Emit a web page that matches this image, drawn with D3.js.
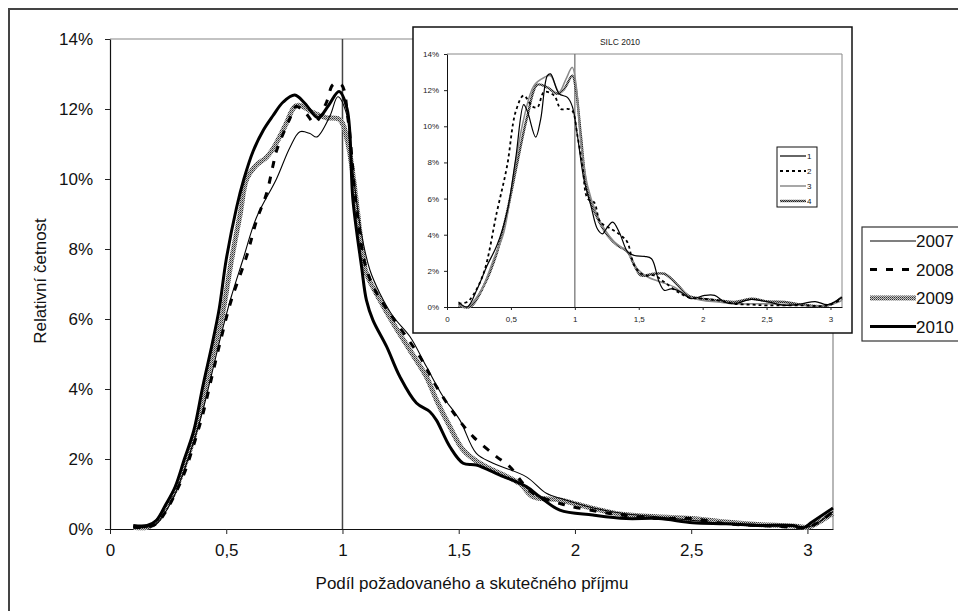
<!DOCTYPE html>
<html>
<head>
<meta charset="utf-8">
<script src="https://cdn.jsdelivr.net/npm/d3@7"></script>
<style>
body { margin: 0; background: #fff; }
svg { font-family: "Liberation Sans", Arial, sans-serif; }
</style>
</head>
<body>
<svg id="chart" width="958" height="611"></svg>
<script>
// main chart series: [podil, relativni cetnost %]
var s2007 = [[0.10,0.05],[0.16,0.05],[0.20,0.15],[0.24,0.5],[0.28,1.0],[0.32,1.7],[0.36,2.5],[0.40,3.4],[0.44,4.5],[0.48,5.6],[0.52,6.6],[0.572,7.7],[0.63,8.9],[0.716,10.0],[0.774,10.9],[0.817,11.35],[0.86,11.3],[0.889,11.2],[0.946,11.8],[0.98,12.35],[1.02,11.8],[1.04,10.5],[1.08,8.5],[1.118,7.4],[1.161,6.73],[1.218,6.07],[1.29,5.5],[1.361,4.64],[1.433,3.78],[1.505,3.11],[1.576,2.16],[1.648,1.88],[1.791,1.49],[1.877,1.02],[1.95,0.85],[2.08,0.6],[2.2,0.45],[2.35,0.35],[2.5,0.25],[2.65,0.15],[2.8,0.1],[2.95,0.07],[3.0,0.05],[3.05,0.2],[3.11,0.5]];
var s2008 = [[0.10,0.05],[0.16,0.05],[0.20,0.15],[0.24,0.5],[0.28,1.0],[0.32,1.6],[0.36,2.4],[0.40,3.3],[0.44,4.4],[0.48,5.5],[0.52,6.5],[0.588,7.8],[0.63,8.8],[0.674,9.6],[0.70,10.35],[0.716,10.8],[0.774,11.73],[0.80,12.07],[0.84,11.9],[0.88,11.6],[0.93,12.17],[0.96,12.7],[0.995,12.7],[1.024,11.7],[1.06,9.2],[1.10,7.5],[1.15,6.7],[1.204,6.16],[1.333,4.92],[1.404,4.07],[1.49,3.21],[1.562,2.64],[1.662,2.07],[1.72,1.78],[1.777,1.3],[1.82,1.02],[1.95,0.7],[2.1,0.5],[2.2,0.4],[2.35,0.3],[2.5,0.3],[2.65,0.15],[2.8,0.1],[2.95,0.05],[3.0,0.05],[3.05,0.2],[3.11,0.5]];
var s2009 = [[0.10,0.05],[0.16,0.05],[0.20,0.2],[0.24,0.6],[0.28,1.1],[0.32,1.8],[0.36,2.6],[0.40,3.7],[0.44,4.9],[0.48,6.0],[0.523,7.7],[0.56,9.0],[0.588,10.0],[0.63,10.4],[0.67,10.6],[0.70,10.85],[0.752,11.5],[0.795,12.07],[0.818,12.1],[0.873,11.9],[0.93,11.75],[0.988,11.7],[1.024,11.0],[1.088,7.8],[1.103,7.3],[1.161,6.54],[1.218,5.88],[1.29,5.11],[1.361,4.35],[1.404,3.69],[1.462,2.92],[1.519,2.26],[1.59,1.88],[1.677,1.59],[1.763,1.3],[1.82,0.92],[1.935,0.83],[2.077,0.59],[2.2,0.42],[2.35,0.35],[2.5,0.3],[2.65,0.2],[2.8,0.12],[2.95,0.08],[3.0,0.05],[3.05,0.2],[3.11,0.45]];
var s2010 = [[0.10,0.10],[0.16,0.10],[0.20,0.25],[0.24,0.7],[0.28,1.2],[0.32,2.0],[0.36,2.8],[0.40,4.1],[0.44,5.3],[0.47,6.3],[0.50,7.7],[0.545,9.2],[0.576,10.0],[0.616,10.8],[0.66,11.4],[0.70,11.8],[0.745,12.2],[0.795,12.4],[0.84,12.15],[0.895,11.75],[0.94,12.1],[0.985,12.5],[1.02,12.0],[1.045,9.4],[1.082,7.5],[1.103,6.54],[1.131,5.97],[1.19,5.21],[1.247,4.35],[1.318,3.6],[1.376,3.35],[1.404,3.11],[1.462,2.35],[1.519,1.88],[1.576,1.83],[1.677,1.54],[1.791,1.21],[1.849,0.92],[1.935,0.54],[2.077,0.4],[2.22,0.3],[2.36,0.3],[2.507,0.18],[2.65,0.15],[2.79,0.1],[2.937,0.1],[2.98,0.03],[3.02,0.2],[3.11,0.6]];

// inset (SILC 2010) series 1-4
var i1 = [[0.09,0.28],[0.157,0.0],[0.236,1.0],[0.314,2.3],[0.39,3.4],[0.47,5.25],[0.537,8.2],[0.60,11.2],[0.63,10.8],[0.694,9.4],[0.733,10.4],[0.785,12.8],[0.81,12.9],[0.877,11.8],[0.942,11.6],[0.98,11.1],[1.02,9.5],[1.07,7.1],[1.126,5.6],[1.178,4.3],[1.217,4.05],[1.243,4.3],[1.296,4.7],[1.35,4.1],[1.414,3.04],[1.466,2.85],[1.545,2.8],[1.60,2.67],[1.66,1.38],[1.70,0.92],[1.754,1.0],[1.83,0.83],[1.91,0.46],[2.016,0.64],[2.094,0.64],[2.17,0.28],[2.25,0.18],[2.38,0.42],[2.51,0.28],[2.64,0.09],[2.775,0.18],[2.88,0.3],[2.98,0.13],[3.09,0.55]];
var i2 = [[0.09,0.18],[0.157,0.28],[0.20,0.6],[0.288,1.9],[0.39,5.25],[0.47,7.8],[0.537,10.8],[0.60,11.7],[0.667,11.1],[0.707,11.05],[0.76,11.9],[0.838,11.7],[0.89,10.96],[0.942,10.96],[0.98,10.87],[1.02,9.5],[1.06,7.8],[1.10,6.0],[1.15,5.8],[1.20,4.7],[1.283,4.33],[1.36,3.96],[1.41,3.6],[1.466,2.3],[1.545,1.75],[1.62,1.75],[1.70,1.38],[1.806,0.83],[1.885,0.55],[1.99,0.46],[2.12,0.37],[2.25,0.18],[2.38,0.13],[2.51,0.09],[2.775,0.09],[2.98,0.09],[3.09,0.46]];
var i3 = [[0.09,0.13],[0.157,0.0],[0.26,0.83],[0.366,2.67],[0.445,4.14],[0.524,7.46],[0.60,10.4],[0.68,12.25],[0.76,12.7],[0.81,12.8],[0.877,11.9],[0.93,12.6],[0.98,13.26],[1.008,12.4],[1.047,9.1],[1.10,6.7],[1.165,5.25],[1.23,4.33],[1.31,3.6],[1.414,3.04],[1.49,2.1],[1.57,1.66],[1.675,1.38],[1.78,1.1],[1.86,0.64],[1.99,0.37],[2.12,0.28],[2.25,0.18],[2.51,0.18],[2.775,0.09],[2.98,0.09],[3.09,0.37]];
var i4 = [[0.09,0.09],[0.18,0.0],[0.29,1.2],[0.39,3.0],[0.47,5.25],[0.55,8.0],[0.63,10.6],[0.707,12.3],[0.785,12.15],[0.864,11.8],[0.916,12.06],[0.98,12.8],[1.008,12.06],[1.047,9.5],[1.10,6.35],[1.178,4.9],[1.257,3.96],[1.335,3.4],[1.414,3.04],[1.466,2.3],[1.518,1.75],[1.62,1.84],[1.70,1.84],[1.754,1.57],[1.806,1.2],[1.885,0.64],[1.99,0.46],[2.12,0.37],[2.25,0.28],[2.38,0.46],[2.51,0.31],[2.64,0.28],[2.775,0.13],[2.98,0.09],[3.09,0.55]];

var xTicks = [0, 0.5, 1, 1.5, 2, 2.5, 3];
var yTicks = [0, 2, 4, 6, 8, 10, 12, 14];
var mainNames = ["2007", "2008", "2009", "2010"];
var insetNames = ["1", "2", "3", "4"];

var svg = d3.select("#chart");
var fmt = function(d) { return String(d).replace(".", ","); };

// checker patterns for textured lines
var defs = svg.append("defs");
var p1 = defs.append("pattern").attr("id", "hatch").attr("width", 2).attr("height", 2)
    .attr("patternUnits", "userSpaceOnUse");
p1.append("rect").attr("width", 2).attr("height", 2).attr("fill", "#c8c8c8");
p1.append("rect").attr("width", 1).attr("height", 1).attr("fill", "#333");
p1.append("rect").attr("x", 1).attr("y", 1).attr("width", 1).attr("height", 1).attr("fill", "#666");
var p2 = defs.append("pattern").attr("id", "hatch2").attr("width", 2).attr("height", 2)
    .attr("patternUnits", "userSpaceOnUse");
p2.append("rect").attr("width", 2).attr("height", 2).attr("fill", "#999");
p2.append("rect").attr("width", 1).attr("height", 1).attr("fill", "#222");
p2.append("rect").attr("x", 1).attr("y", 1).attr("width", 1).attr("height", 1).attr("fill", "#333");

// outer frame
svg.append("rect").attr("x", 9).attr("y", 9).attr("width", 1000).attr("height", 700)
    .attr("fill", "none").attr("stroke", "#444").attr("stroke-width", 2);

// ---------- main chart ----------
var x = d3.scaleLinear().domain([0, 3.11]).range([110, 833]);
var y = d3.scaleLinear().domain([0, 14]).range([529, 39]);

// plot area border (top, right)
svg.append("path")
    .attr("d", "M" + x(0) + "," + y(14) + "H" + x(3.11) + "V" + y(0))
    .attr("fill", "none").attr("stroke", "#888").attr("stroke-width", 1.2);

svg.append("line")
    .attr("x1", x(1)).attr("x2", x(1)).attr("y1", y(14)).attr("y2", y(0))
    .attr("stroke", "#444").attr("stroke-width", 1.5);

var yAxis = svg.append("g")
    .attr("transform", "translate(" + x(0) + ",0)")
    .call(d3.axisLeft(y).tickValues(yTicks).tickSize(5).tickSizeOuter(0).tickPadding(12)
        .tickFormat(function(d) { return d + "%"; }));
var xAxis = svg.append("g")
    .attr("transform", "translate(0," + y(0) + ")")
    .call(d3.axisBottom(x).tickValues(xTicks).tickSize(5).tickSizeOuter(0).tickPadding(10)
        .tickFormat(fmt));
[yAxis, xAxis].forEach(function(a) {
    a.selectAll("text").attr("font-size", 17).attr("fill", "#111").attr("font-family", null);
    a.selectAll("line").attr("stroke", "#222");
    a.select(".domain").attr("stroke", "#111").attr("stroke-width", 1.2);
});

svg.append("text")
    .attr("x", 472).attr("y", 589)
    .attr("text-anchor", "middle").attr("font-size", 17).attr("fill", "#111")
    .text("Podíl požadovaného a skutečného příjmu");
svg.append("text")
    .attr("transform", "translate(46,281) rotate(-90)")
    .attr("text-anchor", "middle").attr("font-size", 17).attr("fill", "#111")
    .text("Relativní četnost");

var line = d3.line()
    .x(function(d) { return x(d[0]); })
    .y(function(d) { return y(d[1]); })
    .curve(d3.curveCatmullRom.alpha(0.5));

var mainStyles = [
    { data: s2007, stroke: "#000", width: 1.1, dash: null },
    { data: s2008, stroke: "#000", width: 3, dash: "7,9" },
    { data: s2009, stroke: "url(#hatch)", width: 5, dash: null },
    { data: s2010, stroke: "#000", width: 3, dash: null }
];
var drawOrder = [2, 0, 1, 3];
drawOrder.forEach(function(i) {
    var s = mainStyles[i];
    svg.append("path")
        .attr("d", line(s.data))
        .attr("fill", "none")
        .attr("stroke", s.stroke)
        .attr("stroke-width", s.width)
        .attr("stroke-dasharray", s.dash)
        .attr("stroke-linejoin", "round");
});

// ---------- inset ----------
svg.append("rect").attr("x", 413).attr("y", 27).attr("width", 439).attr("height", 306)
    .attr("fill", "#fff").attr("stroke", "#111").attr("stroke-width", 1.5);
svg.append("text").attr("x", 620).attr("y", 45).attr("text-anchor", "middle")
    .attr("font-size", 8.5).attr("fill", "#222").text("SILC 2010");

var ix = d3.scaleLinear().domain([0, 3.09]).range([447, 842]);
var iy = d3.scaleLinear().domain([0, 14]).range([307, 54]);

svg.append("path")
    .attr("d", "M" + ix(0) + "," + iy(14) + "H" + ix(3.09) + "V" + iy(0))
    .attr("fill", "none").attr("stroke", "#888").attr("stroke-width", 1);
svg.append("line")
    .attr("x1", ix(1)).attr("x2", ix(1)).attr("y1", iy(14)).attr("y2", iy(0))
    .attr("stroke", "#777").attr("stroke-width", 1.3);

var iyAxis = svg.append("g")
    .attr("transform", "translate(" + ix(0) + ",0)")
    .call(d3.axisLeft(iy).tickValues(yTicks).tickSize(3).tickSizeOuter(0).tickPadding(5)
        .tickFormat(function(d) { return d + "%"; }));
var ixAxis = svg.append("g")
    .attr("transform", "translate(0," + iy(0) + ")")
    .call(d3.axisBottom(ix).tickValues(xTicks).tickSize(3).tickSizeOuter(0).tickPadding(6)
        .tickFormat(fmt));
[iyAxis, ixAxis].forEach(function(a) {
    a.selectAll("text").attr("font-size", 8).attr("fill", "#222").attr("font-family", null);
    a.selectAll("line").attr("stroke", "#222");
    a.select(".domain").attr("stroke", "#111").attr("stroke-width", 1);
});

var iline = d3.line()
    .x(function(d) { return ix(d[0]); })
    .y(function(d) { return iy(d[1]); })
    .curve(d3.curveCatmullRom.alpha(0.5));

var insetStyles = [
    { data: i1, stroke: "#000", width: 1.2, dash: null },
    { data: i2, stroke: "#000", width: 1.8, dash: "3,3" },
    { data: i3, stroke: "#8a8a8a", width: 1.5, dash: null },
    { data: i4, stroke: "url(#hatch2)", width: 2.4, dash: null }
];
[3, 2, 0, 1].forEach(function(i) {
    var s = insetStyles[i];
    svg.append("path")
        .attr("d", iline(s.data))
        .attr("fill", "none")
        .attr("stroke", s.stroke)
        .attr("stroke-width", s.width)
        .attr("stroke-dasharray", s.dash)
        .attr("stroke-linejoin", "round");
});

// inset legend
var il = svg.append("g").attr("transform", "translate(777,147)");
il.append("rect").attr("width", 40).attr("height", 60)
    .attr("fill", "#fff").attr("stroke", "#111").attr("stroke-width", 1);
insetNames.forEach(function(n, i) {
    var s = insetStyles[i];
    var yy = 9 + i * 15;
    il.append("line").attr("x1", 3).attr("x2", 29).attr("y1", yy).attr("y2", yy)
        .attr("stroke", s.stroke).attr("stroke-width", s.width).attr("stroke-dasharray", s.dash);
    il.append("text").attr("x", 30).attr("y", yy + 3).attr("font-size", 8).attr("fill", "#111").text(n);
});

// main legend
var lg = svg.append("g").attr("transform", "translate(862,227)");
lg.append("rect").attr("width", 120).attr("height", 114)
    .attr("fill", "#fff").attr("stroke", "#333").attr("stroke-width", 1.2);
mainNames.forEach(function(n, i) {
    var s = mainStyles[i];
    var yy = 14 + i * 28.5;
    lg.append("line").attr("x1", 8).attr("x2", 54).attr("y1", yy).attr("y2", yy)
        .attr("stroke", s.stroke).attr("stroke-width", s.width).attr("stroke-dasharray", s.dash);
    lg.append("text").attr("x", 54).attr("y", yy + 6).attr("font-size", 17).attr("fill", "#111").text(n);
});
</script>
</body>
</html>
